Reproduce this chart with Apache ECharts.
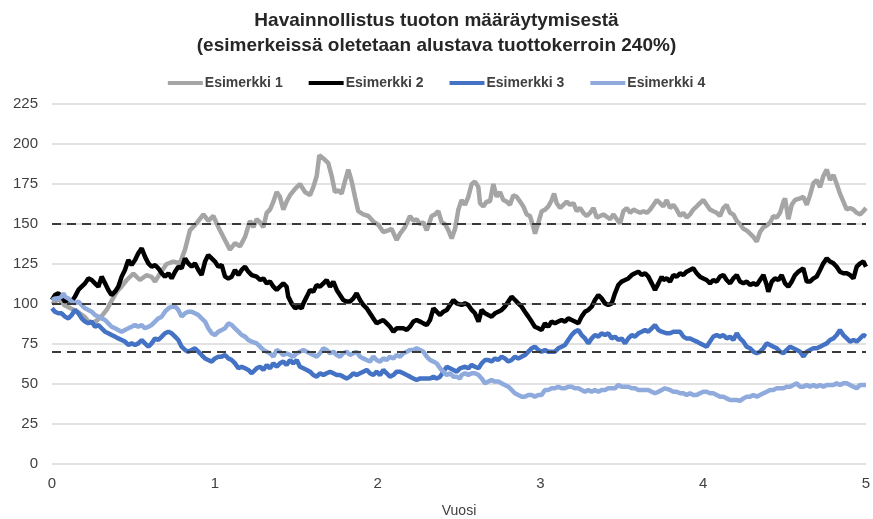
<html>
<head>
<meta charset="utf-8">
<script src="https://cdn.jsdelivr.net/npm/echarts@6/dist/echarts.min.js"></script>
</head>
<body>
<style>
    html, body, #main {
        width: 100%;
        height: 100%;
        margin: 0;
        background: #fff;
    }
</style>
<div id="main"></div>
<script>
// nimet ja värit
var names = ['Esimerkki 1', 'Esimerkki 2', 'Esimerkki 3', 'Esimerkki 4'];
var colors = ['#A5A5A5', '#000000', '#4472C4', '#8FAADC'];
var refLevels = [150, 100, 70];

// [vuosi, arvo] luettu kuvasta
var esim1 = [[0,100],[0.04,103],[0.08,99],[0.12,97],[0.16,95],[0.2,92],[0.225,89],[0.25,88],[0.28,90],[0.31,93],[0.34,97],[0.366,102],[0.4,108],[0.428,111],[0.459,115],[0.5,119],[0.54,115],[0.58,118],[0.612,117],[0.633,114],[0.663,119],[0.704,125],[0.745,126.5],[0.786,125.5],[0.817,134],[0.847,146],[0.888,150.5],[0.93,156],[0.96,152],[0.991,155],[1.022,148],[1.052,142],[1.093,134],[1.124,138],[1.155,136],[1.186,142],[1.216,152],[1.237,148],[1.257,153],[1.278,151],[1.298,148],[1.319,157],[1.339,159],[1.36,164],[1.38,170],[1.4,167],[1.421,159],[1.441,164],[1.462,168],[1.493,172],[1.523,175],[1.554,170],[1.585,168],[1.605,173],[1.626,180],[1.642,193],[1.667,191],[1.697,188],[1.718,180],[1.738,170],[1.759,171],[1.779,169],[1.8,177],[1.82,184],[1.84,177],[1.861,167],[1.881,158],[1.912,156],[1.943,155],[1.974,151.5],[2.004,149.5],[2.035,145],[2.066,146],[2.086,147],[2.117,140],[2.138,144],[2.168,148],[2.199,155],[2.22,152],[2.24,153],[2.26,150],[2.281,151],[2.302,146],[2.332,155],[2.353,156],[2.373,158],[2.394,151],[2.414,150],[2.435,146],[2.455,141],[2.476,147],[2.496,159],[2.516,165],[2.537,162],[2.557,167],[2.578,175],[2.598,176.5],[2.619,173],[2.629,163],[2.649,161],[2.67,164],[2.69,164],[2.711,175],[2.731,167],[2.752,170],[2.772,165],[2.793,164],[2.813,162],[2.834,168],[2.854,167],[2.875,164],[2.895,161],[2.916,156],[2.936,155],[2.957,148],[2.967,144],[2.987,150.5],[3.008,158],[3.029,159],[3.049,161],[3.07,165],[3.084,169],[3.1,163],[3.121,160],[3.141,162],[3.162,164],[3.182,162],[3.203,163],[3.223,158],[3.244,160],[3.264,157],[3.285,155],[3.305,157],[3.326,160],[3.346,154],[3.367,155],[3.387,156],[3.408,154.5],[3.428,153],[3.449,156],[3.469,153],[3.49,150.5],[3.51,158],[3.53,160],[3.551,157],[3.572,159],[3.592,158],[3.613,157],[3.633,158],[3.654,157],[3.674,159],[3.695,162],[3.715,165],[3.735,163],[3.755,161],[3.776,165],[3.796,160],[3.817,162],[3.837,159],[3.858,155],[3.878,157],[3.898,154],[3.919,156],[3.939,159],[3.96,161],[3.98,163],[4.001,165],[4.021,162],[4.042,159],[4.062,158],[4.083,157],[4.103,155],[4.124,160],[4.144,162],[4.165,157],[4.185,156],[4.206,152],[4.226,150],[4.247,147],[4.267,146],[4.288,144],[4.308,142],[4.329,139],[4.349,145],[4.37,148],[4.39,149],[4.411,151],[4.431,155],[4.452,154],[4.472,157],[4.493,164],[4.503,166],[4.523,153],[4.544,162],[4.564,165],[4.595,166],[4.615,167],[4.636,162],[4.656,168],[4.677,175.5],[4.697,177.5],[4.718,173],[4.738,180],[4.759,184],[4.779,177.5],[4.8,180.6],[4.82,175],[4.84,169],[4.861,164],[4.882,159],[4.902,160],[4.923,159],[4.943,157],[4.964,156],[4.984,158],[5,160]];

var esim2 = [[0,102.5],[0.018,105.6],[0.039,106.7],[0.059,104.6],[0.08,101.5],[0.1,102.5],[0.121,101.5],[0.141,104.6],[0.162,108.8],[0.182,110.8],[0.203,112.9],[0.223,116],[0.244,115],[0.264,112.9],[0.285,110.8],[0.305,117.1],[0.326,112.9],[0.346,108.8],[0.366,105.6],[0.387,107.7],[0.407,110.8],[0.428,117.1],[0.448,121.3],[0.469,127.5],[0.489,124.4],[0.51,127.5],[0.53,131.7],[0.551,134.8],[0.571,129.6],[0.592,125.4],[0.612,123.3],[0.633,124.4],[0.653,122.3],[0.674,119.2],[0.694,117.1],[0.715,119.2],[0.735,116],[0.756,120.2],[0.776,123.3],[0.796,122.3],[0.817,128.5],[0.837,125.4],[0.858,123.3],[0.878,125.4],[0.899,121.3],[0.919,118.1],[0.94,126.5],[0.96,130.6],[0.981,128.5],[1.001,126.5],[1.022,123.3],[1.042,124.4],[1.063,117.1],[1.083,116],[1.104,117.1],[1.124,121.3],[1.145,118.1],[1.165,121.3],[1.186,123.3],[1.206,120.2],[1.227,118.1],[1.237,119.2],[1.257,117.1],[1.278,115],[1.298,116],[1.319,112.9],[1.339,114],[1.36,110.8],[1.38,108.8],[1.4,110.8],[1.421,112.9],[1.441,110.8],[1.451,104.6],[1.472,100.4],[1.493,97.3],[1.513,98.3],[1.534,97.3],[1.544,100.4],[1.565,104.6],[1.585,108.8],[1.605,107.7],[1.626,111.9],[1.646,110.8],[1.667,112.9],[1.687,115],[1.708,110.8],[1.728,114],[1.749,108.8],[1.769,105.6],[1.789,102.5],[1.81,101.5],[1.83,101.5],[1.851,103.5],[1.871,106.7],[1.892,102.5],[1.912,99.4],[1.933,97.3],[1.953,94.2],[1.974,91],[1.994,87.9],[2.015,89],[2.035,90],[2.056,87.9],[2.076,85.8],[2.097,82.7],[2.117,84.8],[2.138,84.8],[2.158,84.8],[2.179,83.8],[2.199,85.8],[2.22,89],[2.24,90],[2.261,89],[2.281,87.9],[2.302,86.9],[2.322,90],[2.343,97.3],[2.363,95.2],[2.384,93.1],[2.404,95.2],[2.425,96.3],[2.445,99.4],[2.466,102.5],[2.486,100.4],[2.516,99.4],[2.537,100.4],[2.557,99.4],[2.578,96.3],[2.598,94.2],[2.62,89],[2.639,96.3],[2.66,94.2],[2.68,93.1],[2.7,92.1],[2.721,94.2],[2.741,95.2],[2.762,96.3],[2.782,98.3],[2.803,101.5],[2.823,104.6],[2.844,102.5],[2.864,100.4],[2.885,98.3],[2.905,95.2],[2.926,92.1],[2.946,89],[2.966,85.8],[2.987,84.8],[3.007,83.8],[3.028,87.9],[3.048,85.8],[3.069,89],[3.089,87.9],[3.11,89],[3.13,90],[3.151,89],[3.171,91],[3.192,90],[3.212,89],[3.233,87.9],[3.253,92.1],[3.274,95.2],[3.294,96.3],[3.315,98.3],[3.335,102.5],[3.356,105.6],[3.376,103.5],[3.397,100.4],[3.417,99.4],[3.438,100.4],[3.458,106.7],[3.479,111.9],[3.499,114],[3.52,115],[3.54,116],[3.561,118.1],[3.581,119.2],[3.602,120.2],[3.622,118.1],[3.643,119.2],[3.663,117.1],[3.684,112.9],[3.704,108.8],[3.725,112.9],[3.745,117.1],[3.755,115],[3.776,116],[3.796,114],[3.817,118.1],[3.837,117.1],[3.858,119.2],[3.878,118.1],[3.898,120.2],[3.919,121.3],[3.939,122.3],[3.96,119.2],[3.98,117.1],[4.001,116],[4.021,115],[4.042,112.9],[4.062,115],[4.083,114],[4.103,117.1],[4.124,118.1],[4.144,115],[4.165,112.9],[4.185,116],[4.206,118.1],[4.226,114],[4.247,112.9],[4.267,114],[4.288,111.9],[4.308,112.9],[4.329,111.9],[4.349,115],[4.37,118.1],[4.39,111.9],[4.4,107.7],[4.421,114],[4.441,116],[4.462,115],[4.482,118.1],[4.503,112.9],[4.523,110.8],[4.544,114],[4.564,118.1],[4.585,120.2],[4.615,122.3],[4.636,114],[4.656,114],[4.677,116],[4.697,117.1],[4.718,121.3],[4.738,125.4],[4.759,128.5],[4.779,126.5],[4.8,125.4],[4.82,123.3],[4.84,120.2],[4.861,119.2],[4.882,119.2],[4.902,118.1],[4.923,116],[4.943,123.3],[4.964,125.4],[4.984,126.5],[5,123.3]];

var esim3 = [[0,97.3],[0.018,95.2],[0.039,94.2],[0.059,94.2],[0.08,92.1],[0.1,91],[0.121,93.1],[0.141,96.3],[0.162,94.2],[0.182,91],[0.203,89],[0.223,87.9],[0.244,89],[0.264,85.8],[0.285,86.9],[0.305,84.8],[0.326,82.7],[0.346,81.7],[0.366,80.6],[0.387,79.6],[0.407,78.5],[0.428,77.5],[0.448,76.5],[0.469,74.4],[0.489,75.4],[0.51,74.4],[0.53,75.4],[0.551,77.5],[0.571,75.4],[0.592,73.3],[0.612,75.4],[0.633,78.5],[0.653,77.5],[0.674,79.6],[0.694,81.7],[0.715,82.7],[0.735,81.7],[0.756,79.6],[0.776,77.5],[0.796,73.3],[0.817,71.3],[0.837,70.2],[0.858,71.3],[0.878,72.3],[0.899,70.2],[0.919,68.1],[0.94,66],[0.96,65],[0.981,64],[1.001,66],[1.022,67.1],[1.042,67.1],[1.063,68.1],[1.083,66],[1.104,65],[1.124,62.9],[1.145,59.8],[1.165,60.8],[1.186,59.8],[1.206,58.8],[1.227,56.7],[1.237,55.6],[1.257,59.8],[1.278,60.8],[1.298,58.8],[1.319,61.9],[1.339,59.8],[1.36,62.9],[1.38,60.8],[1.4,62.9],[1.421,64],[1.441,61.9],[1.462,65],[1.482,62.9],[1.503,65],[1.523,60.8],[1.544,59.8],[1.565,58.8],[1.585,57.7],[1.605,55.6],[1.626,54.6],[1.646,56.7],[1.667,55.6],[1.687,56.7],[1.708,57.7],[1.728,56.7],[1.749,55.6],[1.769,55.6],[1.789,54.6],[1.81,53.5],[1.83,54.6],[1.851,56.7],[1.871,55.6],[1.892,56.7],[1.912,57.7],[1.933,58.8],[1.953,56.7],[1.974,55.6],[1.994,57.7],[2.015,55.6],[2.035,58.8],[2.056,56.7],[2.076,54.6],[2.097,55.6],[2.117,57.7],[2.138,57.7],[2.158,56.7],[2.179,55.6],[2.199,54.6],[2.22,53.5],[2.24,52.5],[2.261,53.5],[2.281,53.5],[2.302,53.5],[2.322,53.5],[2.343,54.6],[2.363,53.5],[2.384,54.6],[2.404,57.7],[2.425,60.8],[2.445,59.8],[2.466,58.8],[2.486,57.7],[2.506,59.8],[2.516,59.8],[2.537,60.8],[2.557,59.8],[2.578,61.9],[2.598,60.8],[2.62,59.8],[2.639,62.9],[2.66,65],[2.68,65],[2.7,64],[2.721,66],[2.741,65],[2.762,67.1],[2.782,66],[2.803,64],[2.823,65],[2.844,67.1],[2.864,66],[2.885,67.1],[2.905,68.1],[2.926,70.2],[2.946,72.3],[2.966,73.3],[2.987,71.3],[3.007,70.2],[3.028,71.3],[3.048,70.2],[3.069,70.2],[3.089,70.2],[3.11,72.3],[3.13,73.3],[3.151,74.4],[3.171,77.5],[3.192,80.6],[3.212,82.7],[3.233,83.8],[3.253,80.6],[3.274,78.5],[3.294,75.4],[3.315,78.5],[3.335,80.6],[3.356,79.6],[3.376,81.7],[3.397,80.6],[3.417,81.7],[3.438,78.5],[3.458,79.6],[3.479,77.5],[3.499,78.5],[3.52,75.4],[3.54,78.5],[3.561,80.6],[3.581,79.6],[3.602,81.7],[3.622,82.7],[3.643,83.8],[3.663,82.7],[3.684,84.8],[3.704,86.9],[3.725,83.8],[3.745,82.7],[3.755,83.8],[3.776,81.7],[3.796,81.7],[3.817,82.7],[3.837,82.7],[3.858,82.7],[3.878,79.6],[3.898,78.5],[3.919,78.5],[3.939,77.5],[3.96,76.5],[3.98,75.4],[4.001,74.4],[4.021,73.3],[4.042,76.5],[4.062,79.6],[4.083,80.6],[4.103,79.6],[4.124,80.6],[4.144,78.5],[4.165,79.6],[4.185,77.5],[4.206,81.7],[4.226,78.5],[4.247,76.5],[4.267,73.3],[4.288,72.3],[4.308,70.2],[4.329,69.2],[4.349,70.2],[4.37,72.3],[4.39,75.4],[4.411,74.4],[4.431,73.3],[4.452,72.3],[4.472,70.2],[4.493,69.2],[4.513,71.3],[4.534,73.3],[4.554,72.3],[4.575,71.3],[4.595,70.2],[4.616,67.1],[4.636,70.2],[4.656,71.3],[4.677,72.3],[4.697,72.3],[4.718,73.3],[4.738,74.4],[4.759,75.4],[4.779,77.5],[4.8,78.5],[4.82,80.6],[4.84,83.8],[4.861,80.6],[4.882,78.5],[4.902,76.5],[4.923,77.5],[4.943,76.5],[4.964,78.5],[4.984,80.6],[5,79.6]];

var esim4 = [[0,102.5],[0.018,103.5],[0.039,103.5],[0.059,104.6],[0.07,106.7],[0.08,104.6],[0.1,103.5],[0.121,101.5],[0.141,100.4],[0.162,101.5],[0.182,99.4],[0.203,97.3],[0.223,96.3],[0.244,95.2],[0.264,93.1],[0.285,92.1],[0.305,91],[0.326,90],[0.346,87.9],[0.366,85.8],[0.387,84.8],[0.407,83.8],[0.428,82.7],[0.448,83.8],[0.469,84.8],[0.489,85.8],[0.51,86.9],[0.53,85.8],[0.551,86.9],[0.571,84.8],[0.592,85.8],[0.612,86.9],[0.633,89],[0.653,91],[0.674,92.1],[0.694,95.2],[0.715,97.3],[0.735,98.3],[0.756,98.3],[0.776,96.3],[0.796,92.1],[0.817,94.2],[0.837,95.2],[0.858,95.2],[0.878,94.2],[0.899,93.1],[0.919,91],[0.94,89],[0.96,84.8],[0.981,81.7],[1.001,80.6],[1.022,82.7],[1.042,83.8],[1.063,84.8],[1.083,87.9],[1.104,86.9],[1.124,84.8],[1.145,82.7],[1.165,80.6],[1.186,79.6],[1.206,77.5],[1.227,76.5],[1.237,76.5],[1.257,75.4],[1.278,73.3],[1.298,71.3],[1.319,70.2],[1.339,69.2],[1.36,67.1],[1.38,71.3],[1.4,70.2],[1.421,68.1],[1.441,69.2],[1.462,68.1],[1.482,67.1],[1.503,69.2],[1.523,70.2],[1.544,71.3],[1.565,70.2],[1.585,69.2],[1.605,68.1],[1.626,67.1],[1.646,69.2],[1.667,72.3],[1.687,71.3],[1.708,69.2],[1.728,70.2],[1.749,68.1],[1.769,67.1],[1.789,69.2],[1.81,70.2],[1.83,68.1],[1.851,69.2],[1.871,70.2],[1.892,67.1],[1.912,66],[1.933,65],[1.953,64],[1.974,67.1],[1.994,65],[2.015,64],[2.035,66],[2.056,65],[2.076,67.1],[2.097,66],[2.117,68.1],[2.138,67.1],[2.158,69.2],[2.179,70.2],[2.199,71.3],[2.22,71.3],[2.24,72.3],[2.261,71.3],[2.281,70.2],[2.302,67.1],[2.322,65],[2.343,64],[2.363,62.9],[2.384,59.8],[2.404,57.7],[2.425,55.6],[2.445,56.7],[2.466,54.6],[2.486,54.6],[2.506,53.5],[2.516,55.6],[2.537,56.7],[2.557,55.6],[2.578,56.7],[2.598,56.7],[2.62,55.6],[2.639,53.5],[2.66,50.4],[2.68,51.5],[2.7,52.5],[2.721,51.5],[2.741,51.5],[2.762,50.4],[2.782,49.4],[2.803,48.3],[2.823,46.3],[2.844,44.2],[2.864,43.1],[2.885,42.1],[2.905,42.1],[2.926,43.1],[2.946,43.1],[2.966,42.1],[2.987,43.1],[3.007,43.1],[3.028,46.3],[3.048,46.3],[3.069,47.3],[3.089,47.3],[3.11,48.3],[3.13,47.3],[3.151,47.3],[3.171,48.3],[3.192,48.3],[3.212,47.3],[3.233,47.3],[3.253,46.3],[3.274,45.2],[3.294,46.3],[3.315,45.2],[3.335,46.3],[3.356,45.2],[3.376,46.3],[3.397,46.3],[3.417,47.3],[3.438,47.3],[3.458,47.3],[3.479,49.4],[3.499,48.3],[3.52,48.3],[3.54,48.3],[3.561,47.3],[3.581,47.3],[3.602,46.3],[3.622,46.3],[3.643,46.3],[3.663,46.3],[3.684,45.2],[3.704,44.2],[3.725,45.2],[3.745,46.3],[3.765,47.3],[3.776,46.3],[3.796,46.3],[3.817,45.2],[3.837,45.2],[3.858,44.2],[3.878,44.2],[3.898,43.1],[3.919,44.2],[3.939,43.1],[3.96,43.1],[3.98,44.2],[4.001,45.2],[4.021,45.2],[4.042,44.2],[4.062,44.2],[4.083,43.1],[4.103,42.1],[4.124,42.1],[4.144,41],[4.165,40],[4.185,40],[4.206,40],[4.226,39.5],[4.247,41],[4.267,42.1],[4.288,42.1],[4.308,43.1],[4.329,42.1],[4.349,43.1],[4.37,44.2],[4.39,45.2],[4.411,46.3],[4.431,46.3],[4.452,47.3],[4.472,47.3],[4.493,47.3],[4.513,48.3],[4.534,48.3],[4.554,49.4],[4.575,50.4],[4.595,48.3],[4.616,48.3],[4.636,49.4],[4.656,48.3],[4.677,49.4],[4.697,48.3],[4.718,49.4],[4.738,48.3],[4.759,49.4],[4.779,49.4],[4.8,49.4],[4.82,50.4],[4.84,49.4],[4.861,50.4],[4.882,50.4],[4.902,49.4],[4.923,48.3],[4.943,47.3],[4.964,49.4],[4.984,49.4],[5,49.4]];

var seriesData = [esim1, esim2, esim3, esim4];

var chart = echarts.init(document.getElementById('main'));

var series = [{
    // katkoviivat
    type: 'line',
    name: 'ref',
    data: [],
    silent: true,
    markLine: {
        silent: true,
        symbol: ['none', 'none'],
        label: { show: false },
        lineStyle: { color: '#3A3A3A', width: 2, type: [9, 6] },
        data: refLevels.map(function (v) { return { yAxis: v }; })
    }
}];
names.forEach(function (n, i) {
    series.push({
        type: 'line',
        name: n,
        data: seriesData[i],
        showSymbol: false,
        symbol: 'none',
        color: colors[i],
        lineStyle: { width: 4.5, color: colors[i] }
    });
});

var option = {
    animation: false,
    title: {
        text: 'Havainnollistus tuoton määräytymisestä\n(esimerkeissä oletetaan alustava tuottokerroin 240%)',
        left: 'center',
        top: 3,
        textStyle: {
            fontFamily: 'Liberation Sans',
            fontSize: 19,
            fontWeight: 'bold',
            color: '#262626',
            lineHeight: 25
        }
    },
    legend: {
        data: names,
        top: 71,
        left: 'center',
        icon: 'rect',
        itemWidth: 35,
        itemHeight: 4,
        itemGap: 26,
        textStyle: {
            fontFamily: 'Liberation Sans',
            fontSize: 14,
            fontWeight: 'bold',
            color: '#404040',
            padding: [0, 0, 0, -3]
        }
    },
    grid: { left: 52, right: 7, top: 104, bottom: 55, outerBoundsMode: 'none' },
    xAxis: {
        type: 'value',
        min: 0,
        max: 5,
        interval: 1,
        name: 'Vuosi',
        nameLocation: 'middle',
        nameGap: 40,
        nameTextStyle: { fontFamily: 'Liberation Sans', fontSize: 14, color: '#404040' },
        axisLine: { show: false },
        axisTick: { show: false },
        splitLine: { show: false },
        axisLabel: { fontFamily: 'Liberation Sans', fontSize: 15, color: '#404040', margin: 12 }
    },
    yAxis: {
        type: 'value',
        min: 0,
        max: 225,
        interval: 25,
        axisLine: { show: false },
        axisTick: { show: false },
        splitLine: { lineStyle: { color: '#D9D9D9', width: 1.5 } },
        axisLabel: { fontFamily: 'Liberation Sans', fontSize: 15, color: '#404040', margin: 14 }
    },
    series: series
};

chart.setOption(option);
window.onresize = chart.resize;
</script>
</body>
</html>
